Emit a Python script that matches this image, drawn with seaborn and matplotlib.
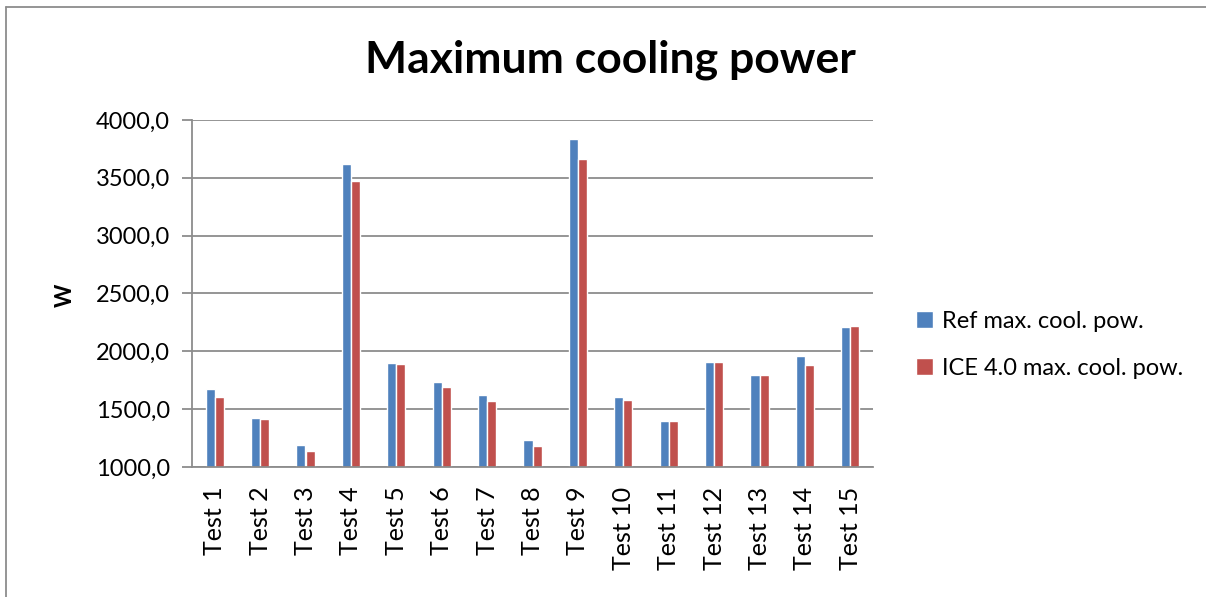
import matplotlib
matplotlib.use("Agg")
import matplotlib.pyplot as plt
from matplotlib.ticker import FuncFormatter
from matplotlib.lines import Line2D
import seaborn as sns
import pandas as pd

# dados
testes = [f"Test {i}" for i in range(1, 16)]
ref_pow = [1677, 1427, 1187, 3620, 1899, 1738, 1620, 1236, 3833, 1605, 1395, 1905, 1793, 1963, 2213]
ice_pow = [1605, 1412, 1135, 3476, 1893, 1695, 1571, 1179, 3663, 1582, 1395, 1908, 1795, 1882, 2219]
series = ["Ref max. cool. pow.", "ICE 4.0 max. cool. pow."]
cores = ["#4F81BD", "#C0504D"]

df = pd.DataFrame({
    "teste": testes * 2,
    "valor": ref_pow + ice_pow,
    "serie": [series[0]] * len(testes) + [series[1]] * len(testes),
})

sns.set_theme(style="white")
plt.rcParams["font.family"] = ["Lato", "DejaVu Sans"]
plt.rcParams["text.color"] = "black"
plt.rcParams["xtick.color"] = "black"
plt.rcParams["ytick.color"] = "black"

fig = plt.figure(figsize=(12.06, 5.97), dpi=100)
ax = fig.add_axes([192 / 1206, 1 - 467 / 597, (873 - 192) / 1206, (467 - 120) / 597])

sns.barplot(data=df, x="teste", y="valor", hue="serie", palette=cores,
            width=0.4, gap=0, saturation=1, ax=ax, legend=True)

ax.set_ylim(1000, 4000)
ax.set_yticks(range(1000, 4001, 500))
ax.yaxis.set_major_formatter(FuncFormatter(lambda v, p: f"{v:.1f}".replace(".", ",")))
ax.grid(axis="y", color="#8c8c8c", linewidth=1.3)
ax.set_axisbelow(True)
for s in ["top", "right"]:
    ax.spines[s].set_visible(False)
for s in ["left", "bottom"]:
    ax.spines[s].set_color("#8c8c8c")
    ax.spines[s].set_linewidth(1.3)
ax.tick_params(axis="y", left=True, length=7, width=1.3, color="#8c8c8c",
               labelcolor="black", labelsize=17, pad=9)
ax.tick_params(axis="x", bottom=False, labelcolor="black", labelsize=18, pad=8, rotation=90)
ax.set_xlabel("")
ax.set_ylabel("")

fig.text(65 / 1206, 1 - 295 / 597, "W", rotation=90, fontsize=16, fontweight="bold",
         ha="center", va="center", color="black")
fig.text(610 / 1206, 1 - 60 / 597, "Maximum cooling power", fontsize=32, fontweight="bold",
         ha="center", va="center", color="black")

handles, labels = ax.get_legend_handles_labels()
ax.legend_.remove()
fig.legend(handles, labels, loc="center left", bbox_to_anchor=(895 / 1206, 1 - 345 / 597),
           frameon=False, fontsize=17, handlelength=0.7, handleheight=0.7,
           handletextpad=0.4, labelspacing=1.1, labelcolor="black")

# moldura externa
fig.add_artist(Line2D([6 / 1206, 1], [1 - 7 / 597, 1 - 7 / 597], color="#8c8c8c", lw=1.3))
fig.add_artist(Line2D([6 / 1206, 6 / 1206], [0, 1 - 7 / 597], color="#8c8c8c", lw=1.3))

fig.savefig("out.png", dpi=100)
